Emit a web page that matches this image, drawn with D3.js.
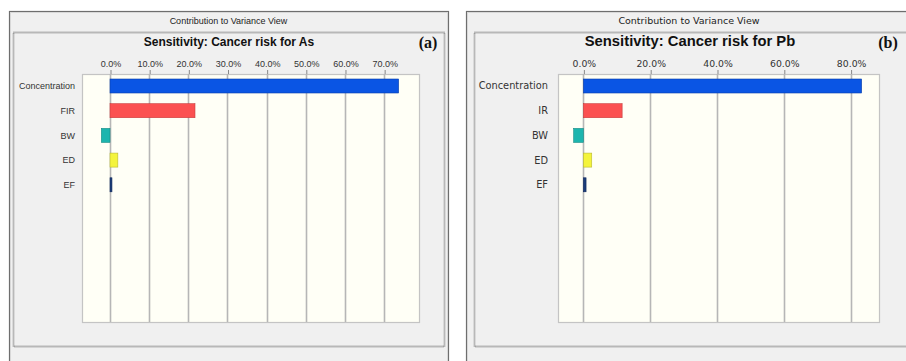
<!DOCTYPE html>
<html>
<head>
<meta charset="utf-8">
<script src="https://cdn.jsdelivr.net/npm/d3@7"></script>
<style>
  html, body { margin: 0; padding: 0; background: #ffffff; }
  svg { display: block; }
</style>
</head>
<body>
<svg id="chart" width="906" height="361"></svg>
<script>
// Contribution to variance (%) for each input assumption
const factorColors = ["#0a55e4", "#fb5151", "#1db5ae", "#f4f43c", "#1b3d7a"];
const barStroke = ["#0a3fa8", "#c83c3c", "#148a84", "#b8b830", "#10285a"];

const catsAs = ["Concentration", "FIR", "BW", "ED", "EF"];
const valsAs = [73.7, 21.7, -2.2, 2.0, 0.5];
const ticksAs = [0, 10, 20, 30, 40, 50, 60, 70];

const catsPb = ["Concentration", "IR", "BW", "ED", "EF"];
const valsPb = [83.3, 11.6, -2.9, 2.5, 0.8];
const ticksPb = [0, 20, 40, 60, 80];

const svg = d3.select("#chart");

function drawPanel(cfg) {
  const g = svg.append("g");

  // window frame
  g.append("rect")
    .attr("x", cfg.frame[0] + 0.5).attr("y", cfg.frame[1] + 0.5)
    .attr("width", cfg.frame[2] - cfg.frame[0]).attr("height", 400)
    .attr("fill", "#f0f0f0").attr("stroke", "#6e6e6e").attr("stroke-width", 1.2);
  g.append("rect")
    .attr("x", cfg.frame[0] + 1.5).attr("y", cfg.frame[1] + 1.5)
    .attr("width", cfg.frame[2] - cfg.frame[0] - 2).attr("height", 400)
    .attr("fill", "none").attr("stroke", "#d8d8d8").attr("stroke-width", 1);

  g.append("text")
    .attr("x", (cfg.frame[0] + cfg.frame[2]) / 2).attr("y", 24)
    .attr("text-anchor", "middle")
    .attr("font-family", cfg.font).attr("font-size", cfg.headSize)
    .attr("fill", "#222")
    .text("Contribution to Variance View");

  // dotted chart border
  g.append("rect")
    .attr("x", cfg.inner[0] + 0.5).attr("y", cfg.inner[1] + 0.5)
    .attr("width", cfg.inner[2] - cfg.inner[0]).attr("height", cfg.inner[3] - cfg.inner[1])
    .attr("fill", "#f0f0f0").attr("stroke", "#808080").attr("stroke-width", 1.8)
    .attr("stroke-dasharray", "1,1");

  g.append("text")
    .attr("x", cfg.titleX).attr("y", 46)
    .attr("text-anchor", "middle")
    .attr("font-family", "Liberation Sans, Arial, sans-serif")
    .attr("font-weight", "bold").attr("font-size", cfg.titleSize)
    .attr("fill", "#111")
    .text(cfg.title);

  g.append("text")
    .attr("x", cfg.tagX).attr("y", 48)
    .attr("text-anchor", "middle")
    .attr("font-family", "Liberation Serif, Times New Roman, serif")
    .attr("font-weight", "bold").attr("font-size", 16)
    .attr("fill", "#111")
    .text(cfg.tag);

  const x = d3.scaleLinear().domain(cfg.domain).range([cfg.plot.left, cfg.plot.right]);
  const y = d3.scaleBand().domain(cfg.cats)
    .range([cfg.plot.top + 5, cfg.plot.top + 5 + 4 * 24.7 + 14])
    .paddingInner(0.433).paddingOuter(0);

  // plot area
  g.append("rect")
    .attr("x", cfg.plot.left + 0.5).attr("y", cfg.plot.top + 0.5)
    .attr("width", cfg.plot.right - cfg.plot.left).attr("height", cfg.plot.bottom - cfg.plot.top)
    .attr("fill", "#fffff6").attr("stroke", "#c4c4c4").attr("stroke-width", 1.2);

  // gridlines + top axis
  g.append("g").selectAll("line").data(cfg.ticks).join("line")
    .attr("x1", d => Math.round(x(d)) + 0.5).attr("x2", d => Math.round(x(d)) + 0.5)
    .attr("y1", cfg.plot.top).attr("y2", cfg.plot.bottom)
    .attr("stroke", "#b6b6b6").attr("stroke-width", 1.6);

  const axis = d3.axisTop(x).tickValues(cfg.ticks)
    .tickFormat(d => d3.format(".1f")(d) + "%")
    .tickSize(4).tickPadding(3);
  const ax = g.append("g")
    .attr("transform", `translate(0.5,${cfg.plot.top})`)
    .call(axis);
  ax.select(".domain").remove();
  ax.selectAll(".tick line").attr("stroke", "#888");
  ax.selectAll(".tick text")
    .attr("font-family", cfg.font).attr("font-size", cfg.tickSize)
    .attr("fill", "#333");

  // category labels
  g.append("g").selectAll("text").data(cfg.cats).join("text")
    .attr("x", cfg.labelX)
    .attr("y", d => y(d) + y.bandwidth() / 2)
    .attr("dy", "0.35em")
    .attr("text-anchor", "end")
    .attr("font-family", cfg.font).attr("font-size", cfg.labelSize)
    .attr("fill", "#333")
    .text(d => d);

  // bars
  g.append("g").selectAll("rect").data(cfg.vals).join("rect")
    .attr("x", d => x(Math.min(0, d)))
    .attr("y", (d, i) => y(cfg.cats[i]))
    .attr("width", d => Math.abs(x(d) - x(0)))
    .attr("height", y.bandwidth())
    .attr("fill", (d, i) => factorColors[i])
    .attr("stroke", (d, i) => barStroke[i])
    .attr("stroke-width", 0.6);
}

drawPanel({
  frame: [9, 11, 448],
  inner: [13, 32, 444, 346],
  plot: { left: 82, right: 419, top: 74, bottom: 322 },
  domain: [-7.15, 78.9],
  cats: catsAs, vals: valsAs, ticks: ticksAs,
  title: "Sensitivity: Cancer risk for As", titleX: 229, titleSize: 12,
  tag: "(a)", tagX: 428,
  labelX: 75, labelSize: 9, tickSize: 9, headSize: 9,
  font: "Liberation Sans, Arial, sans-serif"
});

drawPanel({
  frame: [466, 11, 912],
  inner: [474, 32, 908, 346],
  plot: { left: 558, right: 879, top: 74, bottom: 322 },
  domain: [-7.6, 88.5],
  cats: catsPb, vals: valsPb, ticks: ticksPb,
  title: "Sensitivity: Cancer risk for Pb", titleX: 690, titleSize: 14.8,
  tag: "(b)", tagX: 888,
  labelX: 548, labelSize: 9.8, tickSize: 9.3, headSize: 9.5,
  font: "DejaVu Sans, Verdana, sans-serif"
});
</script>
</body>
</html>
